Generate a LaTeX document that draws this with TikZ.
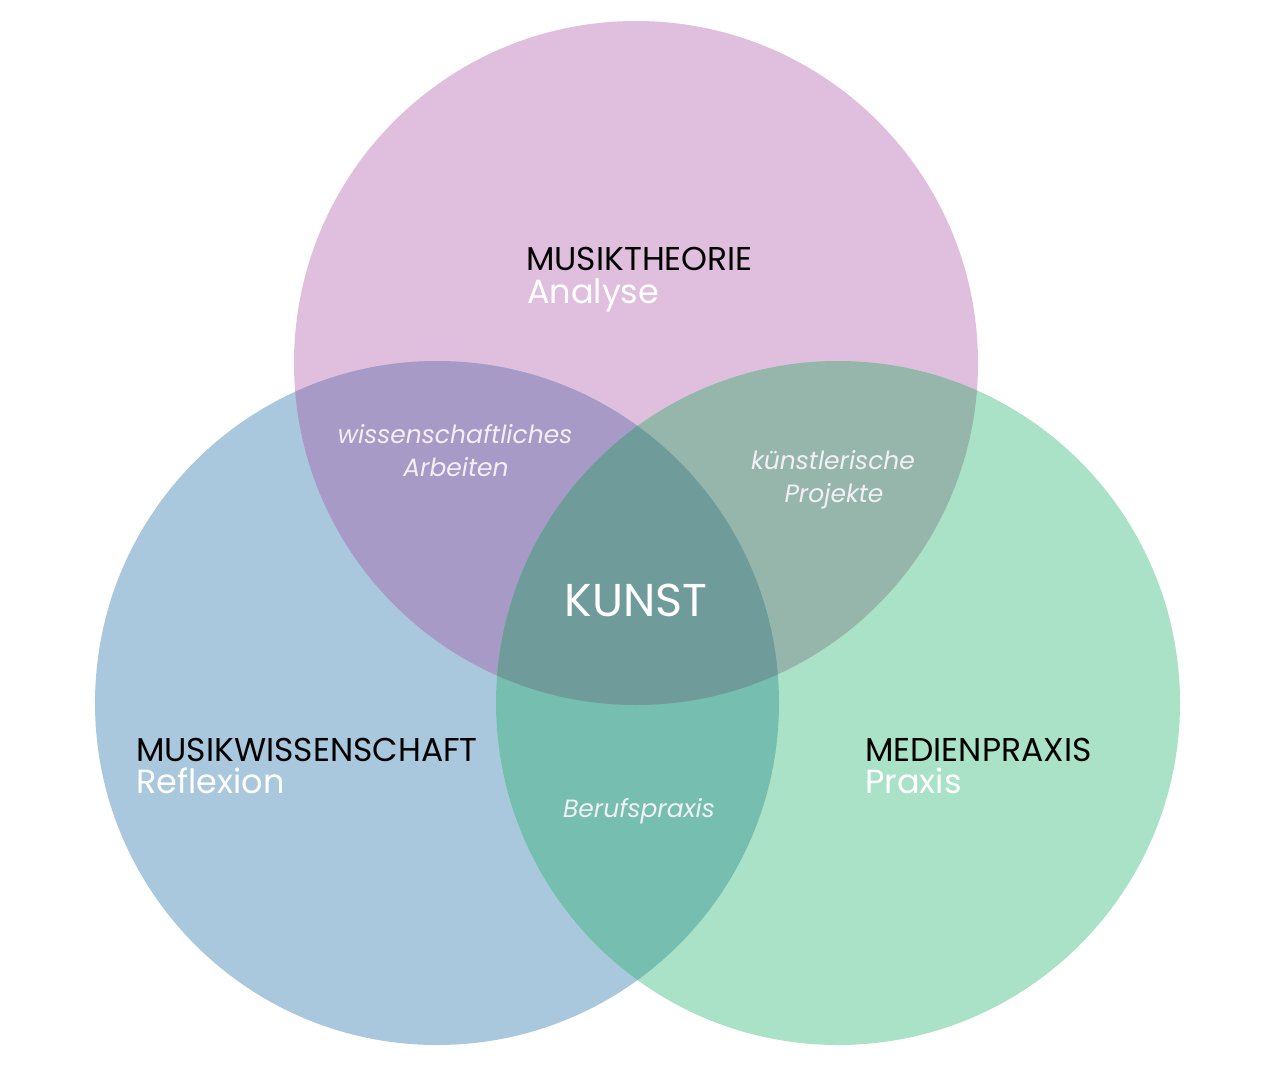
\documentclass[tikz,border=0pt]{standalone}
\usepackage{fontspec}
\setmainfont{Poppins}
\definecolor{cpink}{HTML}{E0BFDE}
\definecolor{cblue}{HTML}{A9C8DD}
\definecolor{cgreen}{HTML}{AAE2C7}
\definecolor{ctl}{HTML}{A79AC6}
\definecolor{ctr}{HTML}{96B6AC}
\definecolor{cbot}{HTML}{76BEB0}
\definecolor{cmid}{HTML}{6F9B9B}
\definecolor{softwhite}{HTML}{F2F0F4}
\tikzset{
  head/.style={font=\fontsize{33}{33}\selectfont, text=black, inner sep=0pt, anchor=base west},
  sub/.style={font=\fontsize{33.5}{33.5}\selectfont, text=white, inner sep=0pt, anchor=base west},
  lens/.style={font=\fontsize{25}{25}\selectfont\itshape, text=softwhite, inner sep=0pt, anchor=base},
  core/.style={font=\fontsize{46}{46}\selectfont, text=white, inner sep=0pt, anchor=base}
}
\begin{document}
\begin{tikzpicture}[x=1pt,y=-1pt]
\useasboundingbox (0,0) rectangle (1275,1076);
\fill[white] (0,0) rectangle (1275,1076);
\coordinate (T) at (636,363);
\coordinate (L) at (437,703);
\coordinate (R) at (838,703);
\fill[cpink] (T) circle[radius=342pt];
\fill[cblue] (L) circle[radius=342pt];
\fill[cgreen] (R) circle[radius=342pt];
\begin{scope}
  \clip (T) circle[radius=342pt];
  \fill[ctl] (L) circle[radius=342pt];
  \fill[ctr] (R) circle[radius=342pt];
\end{scope}
\begin{scope}
  \clip (L) circle[radius=342pt];
  \fill[cbot] (R) circle[radius=342pt];
\end{scope}
\begin{scope}
  \clip (T) circle[radius=342pt];
  \clip (L) circle[radius=342pt];
  \fill[cmid] (R) circle[radius=342pt];
\end{scope}
\node[head] (mt) at (526,270) {MUSIKTHEORIE};
\node[sub] (an) at (527,303) {Analyse};
\node[head] (mw) at (136,761) {MUSIKWISSENSCHAFT};
\node[sub] (re) at (136,793) {Reflexion};
\node[head] (mp) at (865,761) {MEDIENPRAXIS};
\node[sub] (pr) at (865,793) {Praxis};
\node[core] (ku) at (636,616) {KUNST};
\node[lens] (w1) at (455,443) {wissenschaftliches};
\node[lens] (w2) at (456,476) {Arbeiten};
\node[lens] (k1) at (833,469) {künstlerische};
\node[lens] (k2) at (834,502) {Projekte};
\node[lens] (be) at (639,817) {Berufspraxis};
\end{tikzpicture}
\end{document}
